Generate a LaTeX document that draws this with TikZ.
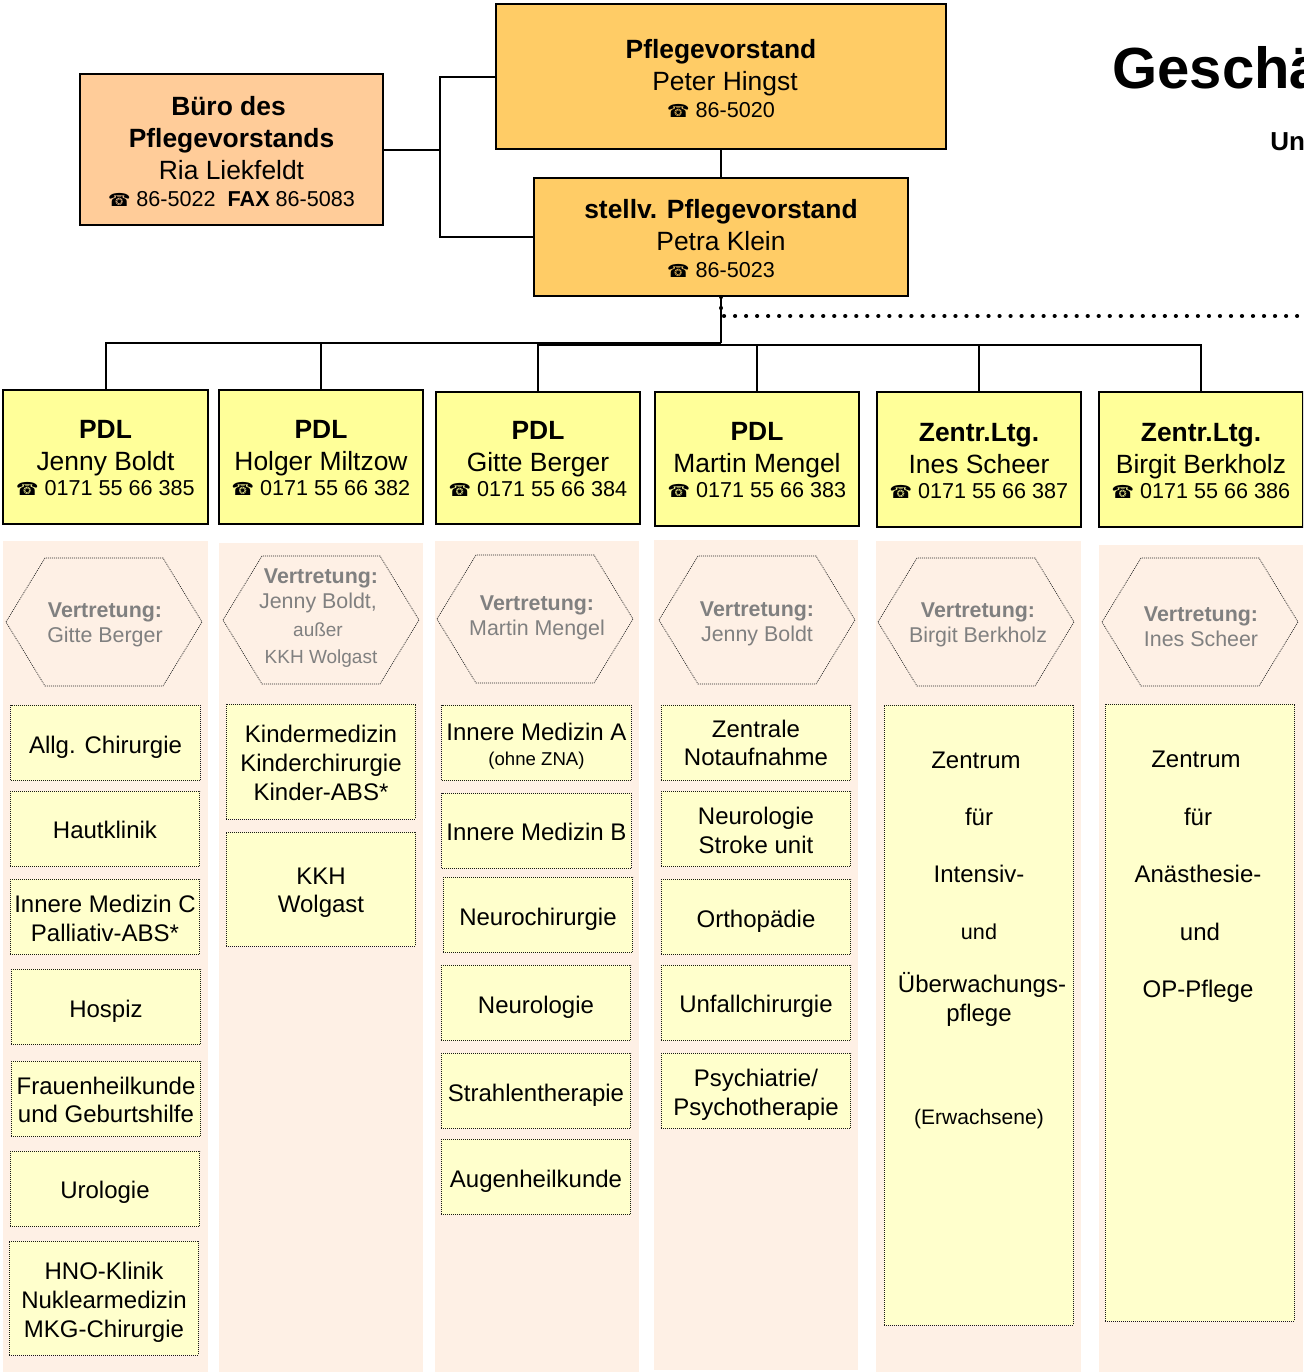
\documentclass[tikz,border=0pt]{standalone}
\usepackage{fontspec}
\usepackage{tikz}
\setmainfont{Liberation Sans}
\newfontfamily\symfont{DejaVu Sans}
\newcommand{\tel}{{\symfont\fontsize{9}{10}\selectfont\char"260E}}
\newcommand{\fs}[1]{\fontsize{#1}{1.2\dimexpr #1pt\relax}\selectfont}
\newcommand{\pad}[1]{\rule{0pt}{#1}}
\newcommand{\hexframe}[1]{\draw [hexline] #1 +(-98,0) -- +(-59,-64) -- +(59,-64) -- +(98,0) -- +(59,64) -- +(-59,64) -- cycle;}
\tikzset{
  lead/.style={shape=rectangle,draw,line width=1pt,fill=#1,align=center,inner sep=0pt,font=\fontsize{13.2}{16}\selectfont},
  pdl/.style={lead=pdlyellow,minimum width=102.5pt},
  panel/.style={shape=rectangle,fill=panelpeach,inner sep=0pt,minimum width=102.5pt},
  hexline/.style={draw=black!85,line width=0.35pt,dash pattern=on 0.5pt off 0.5pt},
  hextext/.style={align=center,inner sep=0pt,text=gray,font=\fontsize{10.7}{12.5}\selectfont},
  rulehigh/.style={execute at begin node={\rule{0pt}{#1}}},
  dept/.style={shape=rectangle,draw=black!90,line width=0.5pt,dash pattern=on 0.5pt off 0.5pt,fill=deptyellow,inner sep=0pt,minimum width=94.7pt,minimum height=37.8pt,align=center,font=\fontsize{12}{14.4}\selectfont},
  conn/.style={line width=1pt},
  dotline/.style={line width=2.1pt,line cap=round,dash pattern=on 0.01pt off 5.5pt}
}
\definecolor{orangebox}{HTML}{FFCC66}
\definecolor{officepeach}{HTML}{FFCC99}
\definecolor{pdlyellow}{HTML}{FFFF99}
\definecolor{deptyellow}{HTML}{FFFFCC}
\definecolor{panelpeach}{HTML}{FEF0E5}
\begin{document}
\begin{tikzpicture}[x=0.5pt,y=-0.5pt]
\path [use as bounding box,clip] (0,0) rectangle (1303,1372);

\path (105.5,956.5) node (panela) [panel,minimum height=415.5pt] {};
\path (321,957.5) node (panelb) [panel,minimum width=102pt,minimum height=414.5pt] {};
\path (537,956.5) node (panelc) [panel,minimum width=102pt,minimum height=415.5pt] {};
\path (756,955) node (paneld) [panel,minimum width=102pt,minimum height=415pt] {};
\path (978.5,956.5) node (panele) [panel,minimum height=415.5pt] {};
\path (1201,958.5) node (panelf) [panel,minimum width=102pt,minimum height=413.5pt] {};

\path (721,76.5) node (vorstand) [lead=orangebox,minimum width=225pt,minimum height=72.5pt] {\pad{11.8pt}\textbf{Pflegevorstand}\\\hspace*{4pt}Peter Hingst\\[-2.5pt]{\fs{10.8}\tel{} 86-5020}};
\path (721,237) node (stellv) [lead=orangebox,minimum width=187pt,minimum height=59pt] {\pad{11.3pt}\textbf{stellv. Pflegevorstand}\\Petra Klein\\[-2.5pt]{\fs{10.8}\tel{} 86-5023}};
\path (231.5,149.5) node (buero) [lead=officepeach,minimum width=151.5pt,minimum height=75.5pt] {\pad{11.8pt}\textbf{Büro des}\hspace*{3pt}\\\textbf{Pflegevorstands}\\Ria Liekfeldt\\[-2.5pt]{\fs{10.8}\tel{} 86-5022\ \ \textbf{FAX} 86-5083}};

\path (105.5,457) node (pdla) [pdl,minimum height=67pt] {\pad{10.2pt}\textbf{PDL}\\Jenny Boldt\\[-3.5pt]{\fs{10.8}\tel{} 0171 55 66 385}};
\path (321,457) node (pdlb) [pdl,minimum width=102pt,minimum height=67pt] {\pad{10.2pt}\textbf{PDL}\\Holger Miltzow\\[-3.5pt]{\fs{10.8}\tel{} 0171 55 66 382}};
\path (538,458) node (pdlc) [pdl,minimum width=102pt,minimum height=66pt] {\pad{10.2pt}\textbf{PDL}\\Gitte Berger\\[-3.5pt]{\fs{10.8}\tel{} 0171 55 66 384}};
\path (757,459) node (pdld) [pdl,minimum width=102pt,minimum height=67pt] {\pad{10.2pt}\textbf{PDL}\\Martin Mengel\\[-3.5pt]{\fs{10.8}\tel{} 0171 55 66 383}};
\path (979,459.5) node (pdle) [pdl,minimum width=102pt,minimum height=67.5pt] {\pad{10.2pt}\textbf{Zentr.Ltg.}\\Ines Scheer\\[-3.5pt]{\fs{10.8}\tel{} 0171 55 66 387}};
\path (1201,459.5) node (pdlf) [pdl,minimum width=102pt,minimum height=67.5pt] {\pad{10.2pt}\textbf{Zentr.Ltg.}\\Birgit Berkholz\\[-3.5pt]{\fs{10.8}\tel{} 0171 55 66 386}};

\hexframe{(104,622)}
\hexframe{(321,620)}
\hexframe{(535,619)}
\hexframe{(757,620)}
\hexframe{(976,622)}
\hexframe{(1200,622)}
\path (105,625) node (hexa) [hextext] {\textbf{Vertretung:}\\Gitte Berger};
\path (321,618.5) node (hexb) [hextext] {\textbf{Vertretung:}\\\hspace*{-3pt}Jenny Boldt,\\[1.5pt]\hspace*{-3pt}{\fs{9.5}außer}\\[1pt]{\fs{9.5}KKH Wolgast}};
\path (537,618) node (hexc) [hextext] {\textbf{Vertretung:}\\Martin Mengel};
\path (757,624) node (hexd) [hextext] {\textbf{Vertretung:}\\Jenny Boldt};
\path (978,625) node (hexe) [hextext] {\textbf{Vertretung:}\\Birgit Berkholz};
\path (1201,627) node (hexf) [hextext] {\textbf{Vertretung:}\\Ines Scheer};

\path (105.5,743) node (allg) [dept,rulehigh=13pt] {Allg. Chirurgie};
\path (105,829) node (haut) [dept,rulehigh=10pt] {Hautklinik};
\path (105,917) node (innerec) [dept] {\pad{10.2pt}Innere Medizin C\\Palliativ-ABS*};
\path (106,1007) node (hospiz) [dept,rulehigh=13pt] {Hospiz};
\path (106,1099) node (frauen) [dept] {\pad{9.7pt}Frauenheilkunde\\und Geburtshilfe};
\path (105,1189) node (uro) [dept,rulehigh=12pt] {Urologie};
\path (104,1298) node (hno) [dept,minimum height=57pt] {\pad{12.7pt}HNO-Klinik\\Nuklearmedizin\\MKG-Chirurgie};

\path (321,761.5) node (kinder) [dept,minimum height=57.5pt] {\pad{10.2pt}Kindermedizin\\Kinderchirurgie\\Kinder-ABS*};
\path (321,889) node (kkh) [dept,minimum height=57pt] {\pad{12pt}KKH\\Wolgast};

\path (536.5,743) node (innerea) [dept] {\pad{12.2pt}Innere Medizin A\\[-2pt]{\fs{9.3}(ohne ZNA)}};
\path (536.5,831) node (innereb) [dept,rulehigh=9.5pt] {Innere Medizin B};
\path (538,915) node (nchir) [dept,rulehigh=13pt] {Neurochirurgie};
\path (536,1003) node (nlog) [dept,rulehigh=13pt] {Neurologie};
\path (536,1091) node (strahl) [dept,rulehigh=13pt] {Strahlentherapie};
\path (536,1177) node (augen) [dept,rulehigh=13pt] {Augenheilkunde};

\path (756,743) node (notauf) [dept] {Zentrale\\Notaufnahme};
\path (756,829) node (stroke) [dept] {\pad{10.2pt}Neurologie\\Stroke unit};
\path (756,917) node (ortho) [dept,rulehigh=13pt] {Orthopädie};
\path (756,1003) node (unfall) [dept,rulehigh=12pt] {Unfallchirurgie};
\path (756,1091) node (psych) [dept] {\pad{12.7pt}Psychiatrie/\\Psychotherapie};

\path (979,1015) node (intbox) [dept,minimum height=310pt] {};
\path (979,940) node (intlabel) [align=center,inner sep=0pt,font=\fontsize{12}{14.4}\selectfont] {Zentrum\hspace*{3pt}\\[14.2pt]für\\[14.2pt]Intensiv-\\[14.2pt]{\fs{10.8}und}\\[12pt]\hspace*{3pt}Überwachungs-\\pflege\\[37pt]{\fs{10.5}(Erwachsene)}};
\path (1200,1012.5) node (anabox) [dept,minimum height=308.5pt] {};
\path (1198,877) node (analabel) [align=center,inner sep=0pt,font=\fontsize{12}{14.4}\selectfont] {Zentrum\hspace*{2pt}\\[14.4pt]für\hspace*{2pt}\\[14.4pt]Anästhesie-\\[14.4pt]\hspace*{2pt}und\\[14.4pt]OP-Pflege};

\path (1112,68) node (titel) [anchor=west,inner sep=0pt,font=\fontsize{29}{33}\selectfont\bfseries] {Geschä};
\path (1270,142) node (unter) [anchor=west,inner sep=0pt,font=\fontsize{13}{16}\selectfont\bfseries] {Un};

\path (440,149.5) coordinate (joint);
\path (721,342.5) coordinate (treetop);
\path (538,344.5) coordinate (treeright);
\path (721,316) coordinate (dotcorner);
\path (1310,316) coordinate (dotend);

\draw [conn] (vorstand) to (stellv);
\draw [conn] (buero) to (joint);
\draw [conn] (joint) |- (vorstand);
\draw [conn] (joint) |- (stellv);
\draw [conn] (stellv) to (treetop);
\draw [conn] (treetop) -| (pdla);
\draw [conn] (treetop) -| (pdlb);
\draw [conn] (treetop) -| (pdlc);
\draw [conn] (treeright) -| (pdld);
\draw [conn] (treeright) -| (pdle);
\draw [conn] (treeright) -| (pdlf);
\draw [dotline] (stellv) -- (dotcorner) -- (dotend);
\end{tikzpicture}
\end{document}
